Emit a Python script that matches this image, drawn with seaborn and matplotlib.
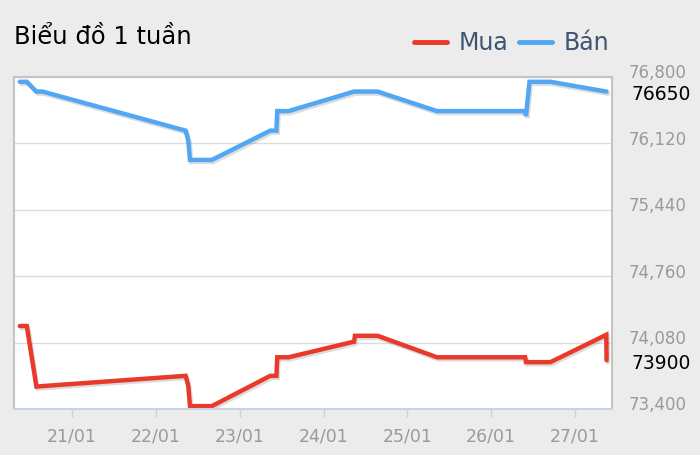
import numpy as np
import pandas as pd
import seaborn as sns
import matplotlib.pyplot as plt
import matplotlib.dates as mdates
import matplotlib.patheffects as pe
from matplotlib.transforms import ScaledTranslation

sns.set_theme(style="white")
plt.rcParams['font.family'] = ['DejaVu Sans']

# thoi diem cap nhat gia (ca hai chuoi dung chung)
times = ["2019-01-20 09:00", "2019-01-20 11:00", "2019-01-20 13:45", "2019-01-20 15:30",
         "2019-01-22 08:30", "2019-01-22 09:15", "2019-01-22 09:45", "2019-01-22 16:00",
         "2019-01-23 08:45", "2019-01-23 10:30", "2019-01-23 10:45", "2019-01-23 14:00",
         "2019-01-24 08:45", "2019-01-24 09:00", "2019-01-24 15:30", "2019-01-25 08:30",
         "2019-01-26 09:45", "2019-01-26 10:00", "2019-01-26 11:00", "2019-01-26 17:00",
         "2019-01-27 09:00", "2019-01-27 09:05"]
mua = [74250, 74250, 73630, 73635, 73740, 73640, 73430, 73430, 73740, 73740, 73930,
       73930, 74090, 74150, 74150, 73930, 73930, 73880, 73880, 73880, 74160, 73900]
ban = [76750, 76750, 76650, 76650, 76250, 76150, 75950, 75950, 76250, 76250, 76450,
       76450, 76650, 76650, 76650, 76450, 76450, 76400, 76750, 76750, 76650, 76650]
y_ticks = [73400, 74080, 74760, 75440, 76120, 76800]

df = pd.DataFrame({
    'time': pd.to_datetime(times * 2),
    'price': mua + ban,
    'kind': ['Mua'] * len(mua) + ['Bán'] * len(ban),
})

red = '#e8392a'
blue = '#52a7f4'
bg = '#ececec'

fig = plt.figure(figsize=(7, 4.55), dpi=100, facecolor=bg)
ax = fig.add_axes([0.02, 0.101, 0.854, 0.730])
ax.set_facecolor('white')

sns.lineplot(data=df, x='time', y='price', hue='kind', palette={'Mua': red, 'Bán': blue},
             estimator=None, sort=False, linewidth=3.2, ax=ax, legend=False)
for line in ax.get_lines():
    line.set_path_effects([pe.SimpleLineShadow(offset=(1, -1.5), alpha=0.15), pe.Normal()])
    line.set_solid_joinstyle('miter')

ax.set_xlim(pd.Timestamp("2019-01-20 07:20"), pd.Timestamp("2019-01-27 10:35"))
ax.set_ylim(73400, 76800)
ax.set_yticks(y_ticks)
ax.set_yticklabels([f"{v:,}" for v in y_ticks])
ax.yaxis.tick_right()
ax.tick_params(axis='y', length=0, pad=12, labelsize=12, labelcolor='#9a9a9a')
shift = ScaledTranslation(0, 4 / 72, fig.dpi_scale_trans)
for lab in ax.get_yticklabels():
    lab.set_transform(lab.get_transform() + shift)
ax.grid(axis='y', color='#dcdcdc', linewidth=1)
ax.grid(axis='x', visible=False)

ax.xaxis.set_major_locator(mdates.DayLocator())
ax.xaxis.set_major_formatter(mdates.DateFormatter('%d/%m'))
ax.tick_params(axis='x', bottom=True, length=6, width=1, color='#c5d3e3', pad=7,
               labelsize=12.5, labelcolor='#9a9a9a')
ax.set_xlabel('')
ax.set_ylabel('')

for side in ['left', 'top', 'right']:
    ax.spines[side].set_color('#c4c4c4')
    ax.spines[side].set_linewidth(1.5)
ax.spines['bottom'].set_color('#c5d3e3')
ax.spines['bottom'].set_linewidth(1.5)

# gia hien tai o ben phai
ax.annotate(f"{ban[-1]}", xy=(1, ban[-1]), xycoords=('axes fraction', 'data'),
            xytext=(14, -2), textcoords='offset points', va='center', fontsize=13.5, color='black')
ax.annotate(f"{mua[-1]}", xy=(1, mua[-1]), xycoords=('axes fraction', 'data'),
            xytext=(14, -2.5), textcoords='offset points', va='center', fontsize=13.5, color='black')

fig.text(0.02, 0.918, "Biểu đồ 1 tuần", fontsize=17.5, color='black', va='center')

handles = [plt.Line2D([], [], color=red, linewidth=3.5), plt.Line2D([], [], color=blue, linewidth=3.5)]
fig.legend(handles, ['Mua', 'Bán'], loc='center right', bbox_to_anchor=(0.901, 0.905), ncol=2,
           frameon=False, fontsize=17, handlelength=1.4, handletextpad=0.5, columnspacing=0.45,
           labelcolor='#3e5470')

fig.savefig('out.png', dpi=100, facecolor=bg)
